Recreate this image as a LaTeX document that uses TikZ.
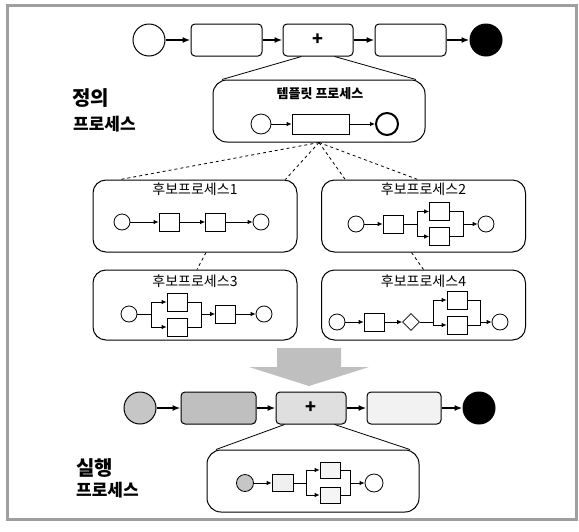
\documentclass[tikz,border=0pt]{standalone}
\usepackage{fontspec}
\setmainfont{Noto Sans CJK KR}
\usetikzlibrary{arrows.meta, positioning, shapes.geometric}

\begin{document}
\begin{tikzpicture}[
    x=1pt, y=-1pt,
    >={Latex[length=5pt,width=4.5pt]},
    evt/.style={circle, draw, line width=0.8pt, minimum size=16pt, inner sep=0pt},
    bigevt/.style={evt, line width=1pt, minimum size=32pt},
    task/.style={draw, line width=1pt, rounded corners=4pt, minimum height=32pt, inner sep=0pt, font=\fontsize{18}{18}\selectfont\bfseries},
    act/.style={draw, line width=0.8pt, minimum width=20pt, minimum height=18pt, inner sep=0pt},
    grp/.style={draw, line width=1pt, rounded corners=13pt, minimum width=204pt, inner sep=0pt},
    gate/.style={diamond, draw, line width=0.8pt, minimum size=17pt, inner sep=0pt},
    flow/.style={->, line width=0.8pt},
    bigflow/.style={->, line width=1.6pt, >={Latex[length=8pt,width=6pt]}},
    link/.style={line width=0.8pt},
    cand/.style={dashed, line width=0.8pt},
    lbl/.style={font=\fontsize{14}{16}\selectfont},
    side/.style={font=\fontsize{17}{20}\selectfont\bfseries, anchor=west, inner sep=0pt}
]
\useasboundingbox (0,0) rectangle (579,531);

% frame
\draw[gray!75, line width=3pt] (7,5) rectangle (576,519);

% upper process
\node[bigevt] (ts) at (149,40) {};
\node[task, minimum width=71pt] (tb1) at (226.5,40) {};
\node[task, minimum width=70pt] (tb2) at (318,40) {+};
\node[task, minimum width=71pt] (tb3) at (410.5,40) {};
\node[bigevt, fill=black] (te) at (486,40) {};
\draw[bigflow] (ts) -- (tb1);
\draw[bigflow] (tb1) -- (tb2);
\draw[bigflow] (tb2) -- (tb3);
\draw[bigflow] (tb3) -- (te);

% template process
\node[grp, minimum width=212pt, minimum height=62pt, rounded corners=14pt] (tmpl) at (319,111) {};
\node[lbl, font=\fontsize{13}{15}\selectfont\bfseries] (tmplt) at (320,94) {템플릿 프로세스};
\node[evt, minimum size=20pt] (t0) at (261,124) {};
\node[act, minimum width=57pt, minimum height=20pt] (t1) at (320.5,124) {};
\node[evt, minimum size=22pt, line width=2pt] (t2) at (387,124) {};
\draw[flow] (t0) -- (t1);
\draw[flow] (t1) -- (t2);
\draw[link] (tb2.225) -- (tmpl.162);
\draw[link] (tb2.-45) -- (tmpl.18);

\node[side, font=\fontsize{20}{22}\selectfont\bfseries] (def1) at (72,98) {정의};
\node[side] (def2) at (73,124) {프로세스};

% candidate processes
\node[grp, minimum height=72pt] (c1) at (195,216) {};
\node[grp, minimum height=72pt] (c2) at (423.5,216) {};
\node[grp, minimum height=70pt] (c3) at (195,305) {};
\node[grp, minimum height=70pt] (c4) at (423.5,305) {};
\node[lbl] (c1t) at (195,189) {후보프로세스1};
\node[lbl] (c2t) at (423.5,189) {후보프로세스2};
\node[lbl] (c3t) at (195,281) {후보프로세스3};
\node[lbl] (c4t) at (423.5,281) {후보프로세스4};

\draw[cand] (tmpl.south) -- (c1.154);
\draw[cand] (tmpl.south) -- (c1.22);
\draw[cand] (tmpl.south) -- (c2.155);
\draw[cand] (tmpl.south) -- (c2.99);
\draw[cand] ([xshift=11pt]c1.south) -- ([xshift=2pt]c3.north);
\draw[cand] ([xshift=-12pt]c2.south) -- (c4.north);

% candidate 1
\node[evt] (s1) at (122,222) {};
\node[act] (a1) at (169,222) {};
\node[act] (b1) at (215.5,222) {};
\node[evt] (e1) at (261,222) {};
\draw[flow] (s1) -- (a1);
\draw[flow] (a1) -- (b1);
\draw[flow] (b1) -- (e1);

% candidate 2
\node[evt] (s2) at (356,224) {};
\node[act] (a2) at (393,224) {};
\coordinate (f2) at (417,224);
\node[act] (u2) at (439.5,211.5) {};
\node[act] (l2) at (439.5,236.5) {};
\coordinate (j2) at (463,224);
\node[evt] (e2) at (486,224) {};
\draw[flow] (s2) -- (a2);
\draw[link] (a2) -- (f2);
\draw[flow] (f2) |- (u2);
\draw[flow] (f2) |- (l2);
\draw[link] (u2) -| (j2);
\draw[link] (l2) -| (j2);
\draw[flow] (j2) -- (e2);

% candidate 3
\node[evt] (s3) at (129,314) {};
\coordinate (f3) at (151,314);
\node[act] (u3) at (177,302) {};
\node[act] (l3) at (177,327) {};
\coordinate (j3) at (201,314);
\node[act] (r3) at (225.5,314) {};
\node[evt] (e3) at (264,314) {};
\draw[link] (s3) -- (f3);
\draw[flow] (f3) |- (u3);
\draw[flow] (f3) |- (l3);
\draw[link] (u3) -| (j3);
\draw[link] (l3) -| (j3);
\draw[flow] (j3) -- (r3);
\draw[flow] (r3) -- (e3);

% candidate 4
\node[evt] (s4) at (337,322) {};
\node[act] (a4) at (374,322) {};
\node[gate] (d4) at (411,322) {};
\coordinate (f4) at (433,322);
\node[act] (u4) at (457,300) {};
\node[act] (l4) at (457,325) {};
\coordinate (j4) at (480,322);
\node[evt] (e4) at (500,322) {};
\draw[flow] (s4) -- (a4);
\draw[flow] (a4) -- (d4);
\draw[link] (d4) -- (f4);
\draw[flow] (f4) |- (u4);
\draw[flow] (f4) |- (l4);
\draw[link] (u4) -| (j4);
\draw[link] (l4) -| (j4);
\draw[flow] (j4) -- (e4);

% big arrow
\fill[gray!50] (277,348) -- (341,348) -- (341,367) -- (369,367) -- (309,386) -- (249,367) -- (277,367) -- cycle;

% executed process
\node[bigevt, fill=gray!45] (bs) at (140,408) {};
\node[task, minimum width=75pt, fill=gray!50] (bb1) at (218.5,408) {};
\node[task, minimum width=70pt, fill=gray!25] (bb2) at (311,408) {+};
\node[task, minimum width=74pt, fill=gray!10] (bb3) at (404,408) {};
\node[bigevt, fill=black] (be) at (479,408) {};
\draw[bigflow] (bs) -- (bb1);
\draw[bigflow] (bb1) -- (bb2);
\draw[bigflow] (bb2) -- (bb3);
\draw[bigflow] (bb3) -- (be);

\node[grp, minimum width=212pt, minimum height=62pt, rounded corners=14pt] (ex) at (313,481) {};
\draw[link] (bb2.212) -- (ex.162);
\draw[link] (bb2.-35) -- (ex.18);

\node[evt, minimum size=17pt, fill=gray!45] (es) at (245,483) {};
\node[act, minimum width=21pt, minimum height=17pt, fill=gray!12] (ea) at (282.5,483) {};
\coordinate (f5) at (306,483);
\node[act, minimum height=16pt, fill=gray!8] (eu) at (330,470) {};
\node[act, minimum height=16pt, fill=gray!8] (el) at (330,495) {};
\coordinate (j5) at (350,483);
\node[evt, minimum size=18pt] (ee) at (374,483) {};
\draw[flow] (es) -- (ea);
\draw[link] (ea) -- (f5);
\draw[flow] (f5) |- (eu);
\draw[flow] (f5) |- (el);
\draw[link] (eu) -| (j5);
\draw[link] (el) -| (j5);
\draw[flow] (j5) -- (ee);

\node[side, font=\fontsize{20}{22}\selectfont\bfseries] (run1) at (76,468) {실행};
\node[side] (run2) at (76,490) {프로세스};

\end{tikzpicture}
\end{document}
